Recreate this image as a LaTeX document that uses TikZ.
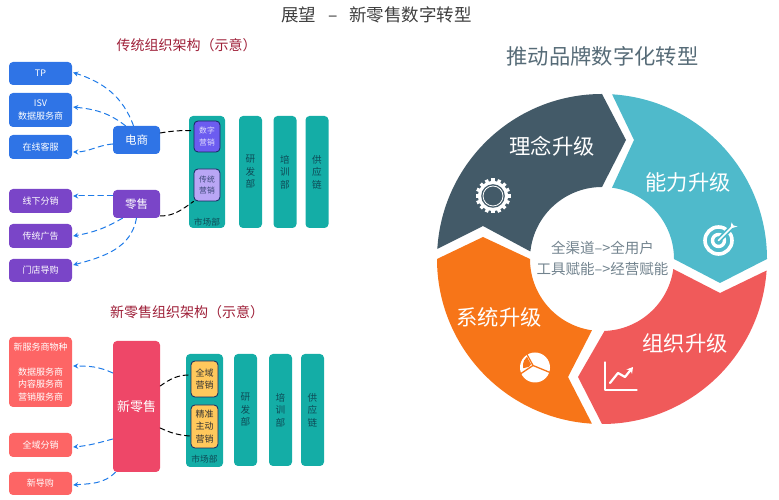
\documentclass[tikz,border=0pt]{standalone}
\usepackage{fontspec}
\setmainfont{Noto Sans CJK SC}
\usetikzlibrary{arrows.meta}
\definecolor{cblue}{HTML}{2F74E6}
\definecolor{cpurple}{HTML}{7A45C8}
\definecolor{csalmon}{HTML}{FD6565}
\definecolor{cpink}{HTML}{EE4768}
\definecolor{cbar}{HTML}{14ADA6}
\definecolor{cbartext}{HTML}{0E4A56}
\definecolor{cnavy}{HTML}{17255F}
\definecolor{carrow}{HTML}{1F7BE8}
\definecolor{ctitle}{HTML}{9E1F38}
\definecolor{cdark}{HTML}{435A68}
\definecolor{cteal}{HTML}{4FBACB}
\definecolor{cred}{HTML}{F05A5A}
\definecolor{corange}{HTML}{F77518}
\definecolor{cviolet}{HTML}{6C5CF0}
\definecolor{clilac}{HTML}{B9A6F5}
\definecolor{cyolk}{HTML}{FFC85C}
\begin{document}
\begin{tikzpicture}[x=1pt,y=1pt,line cap=round,line join=round,>=stealth,
	box/.style={rounded corners=4pt,text=white,align=center,inner sep=0pt,font=\fontsize{9}{12.3}\selectfont},
	hub/.style={rounded corners=4pt,text=white,align=center,inner sep=0pt,minimum width=47pt,font=\fontsize{11.5}{14}\selectfont},
	leafb/.style={box,fill=cblue,minimum width=63pt},
	leafp/.style={box,fill=cpurple,minimum width=63pt},
	leafr/.style={box,fill=csalmon,minimum width=63pt},
	bar/.style={rounded corners=4pt,fill=cbar,text=cbartext,align=center,inner sep=0pt,minimum width=23pt,minimum height=112pt,font=\fontsize{9.6}{12.5}\selectfont},
	unit/.style={rounded corners=4pt,draw=cnavy,line width=0.8pt,text=cbartext,align=center,inner sep=0pt,font=\fontsize{7.8}{11.5}\selectfont},
	seglabel/.style={text=white,inner sep=0pt,font=\fontsize{21.3}{25}\selectfont},
	linkb/.style={-{Stealth[length=5pt,width=5pt]},carrow,line width=1pt,dash pattern=on 5.5pt off 4pt},
	linkk/.style={black,line width=1pt,dash pattern=on 5pt off 3.5pt}]
	\useasboundingbox (0,0) rectangle (779,500);
	\node (toptitle) at (376.5,485) [text=black!75,font=\fontsize{17.5}{20}\selectfont] {展望\ \ \ –\ \ \ 新零售数字转型};
	\node (oldtitle) at (186.5,455) [text=ctitle,font=\fontsize{14}{16}\selectfont] {传统组织架构（示意）};
	\node (newtitle) at (187,188) [text=ctitle,font=\fontsize{14}{16}\selectfont] {新零售组织架构（示意）};
	\node (ringtitle) at (602.5,444) [text=cdark!90,font=\fontsize{21.3}{25}\selectfont] {推动品牌数字化转型};

	\node (tp) at (40.5,426.5) [leafb,minimum height=23pt] {TP};
	\node (isv) at (40.5,390) [leafb,minimum height=34pt] {ISV\\数据服务商};
	\node (kefu) at (40.5,353) [leafb,minimum height=24pt] {在线客服};
	\node (fenxiao) at (40.5,299) [leafp,minimum height=24pt] {线下分销};
	\node (guanggao) at (40.5,264) [leafp,minimum height=24pt] {传统广告};
	\node (daogou) at (40.5,229.5) [leafp,minimum height=23pt] {门店导购};
	\node (ecom) at (136.5,360) [hub,fill=cblue,minimum height=28pt] {电商};
	\node (retail) at (136.5,296) [hub,fill=cpurple,minimum height=28pt] {零售};

	\node (mkt) at (207,328) [bar,minimum width=36pt] {};
	\node (mkttext) at (207,278) [text=cbartext,inner sep=0pt,font=\fontsize{8.7}{10}\selectfont] {市场部};
	\node (digital) at (207,363.5) [unit,fill=cviolet,text=white!80!cviolet,minimum width=26pt,minimum height=31pt] {数字\\营销};
	\node (trad) at (207,315) [unit,fill=clilac,text=cnavy!85,minimum width=26pt,minimum height=32pt] {传统\\营销};
	\node (rd) at (250.5,328) [bar] {研\\发\\部};
	\node (train) at (285,328) [bar] {培\\训\\部};
	\node (supply) at (317,328) [bar] {供\\应\\链};

	\draw[linkb] ([xshift=-3pt]ecom.north) to[out=110,in=-18] ([xshift=1pt,yshift=1pt]tp.east);
	\draw[linkb] ([xshift=-11pt]ecom.north) to[out=142,in=-6] ([xshift=1pt,yshift=3pt]isv.east);
	\draw[linkb] ([yshift=-4pt]ecom.west) to[out=185,in=0] ([xshift=1pt,yshift=-5pt]kefu.east);
	\draw[linkb] ([yshift=8pt]retail.west) -- ([xshift=1pt,yshift=5pt]fenxiao.east);
	\draw[linkb] ([xshift=-14pt]retail.south) to[out=210,in=10] ([xshift=1pt]guanggao.east);
	\draw[linkb] (retail.south) to[out=-100,in=15] ([xshift=1pt,yshift=5.5pt]daogou.east);
	\draw[linkk] ([yshift=7pt]ecom.east) to[out=10,in=180] ([yshift=6pt]digital.west);
	\draw[linkk] ([yshift=-12pt]retail.east) to[out=0,in=215] (trad.south west);

	\node (newleaf) at (40.5,128) [leafr,minimum height=70pt] {新服务商物种\\\\数据服务商\\内容服务商\\营销服务商};
	\node (quanyu) at (40.5,55) [leafr,minimum height=24pt] {全域分销};
	\node (newguide) at (40.5,16.5) [leafr,minimum height=23pt] {新导购};
	\node (newretail) at (136.5,93.5) [hub,fill=cpink,minimum height=131pt,font=\fontsize{13}{16}\selectfont] {新零售};

	\node (mktn) at (204.5,89.5) [bar,minimum width=37pt,minimum height=113pt] {};
	\node (mktntext) at (204.5,41) [text=cbartext,inner sep=0pt,font=\fontsize{8.7}{10}\selectfont] {市场部};
	\node (fullmkt) at (204.5,121) [unit,fill=cyolk,text=black!80,minimum width=27pt,minimum height=36pt,font=\fontsize{9}{12.3}\selectfont] {全域\\营销};
	\node (activemkt) at (204.5,73.5) [unit,fill=cyolk,text=black!80,minimum width=27pt,minimum height=43pt,font=\fontsize{9}{12.3}\selectfont] {精准\\主动\\营销};
	\node (rdn) at (245.5,90) [bar] {研\\发\\部};
	\node (trainn) at (280.5,90) [bar] {培\\训\\部};
	\node (supplyn) at (312.5,90) [bar] {供\\应\\链};

	\draw[linkb] ([yshift=33.5pt]newretail.west) to[out=155,in=0] ([xshift=1pt,yshift=6pt]newleaf.east);
	\draw[linkb] ([yshift=-32.5pt]newretail.west) to[out=195,in=5] ([xshift=1pt,yshift=-2pt]quanyu.east);
	\draw[linkb] ([xshift=-21pt]newretail.south) to[out=225,in=5] ([xshift=1pt,yshift=-1.5pt]newguide.east);
	\draw[linkk] ([yshift=20.5pt]newretail.east) to[out=35,in=180] ([xshift=-1pt,yshift=4pt]fullmkt.west);
	\draw[linkk] ([yshift=-21.5pt]newretail.east) to[out=-25,in=175] ([xshift=-1pt,yshift=-9.5pt]activemkt.west);

	\begin{scope}[shift={(602,241)}]
		\fill[cdark] (176.5:165) arc (176.5:90:165) -- (24,119) -- (90:72) arc (90:174:72) -- (-119,33) -- cycle;
		\fill[cteal] (86.5:165) arc (86.5:0:165) -- (118,-24) -- (0:72) arc (0:82:72) -- (32,119) -- cycle;
		\fill[cred] (-4:165) arc (-4:-90:165) -- (-24,-118) -- (-88:72) arc (-88:-8:72) -- (118,-34) -- cycle;
		\fill[corange] (180:165) arc (180:266.5:165) -- (-34,-118) -- (262:72) arc (262:180:72) -- (-119,22) -- cycle;
	\end{scope}
	\node (idea) at (552,354) [seglabel] {理念升级};
	\node (ability) at (688,318) [seglabel] {能力升级};
	\node (system) at (499,183) [seglabel] {系统升级};
	\node (org) at (685,157) [seglabel] {组织升级};
	\node (center) at (602.5,241.5) [text=cdark!75,align=center,inner sep=0pt,font=\fontsize{14.5}{21}\selectfont] {全渠道–>全用户\\工具赋能–>经营赋能};

	\begin{scope}[shift={(493,304)}]
		\foreach \a in {0,22.5,...,337.5}
			\fill[white,rotate=\a] (14,-1.7) rectangle (17.5,1.7);
		\fill[white] (0,0) circle (15);
		\fill[cdark] (0,0) circle (11.8);
		\draw[white,line width=0.8pt] (0,0) circle (10);
	\end{scope}
	\begin{scope}[shift={(718.5,259.5)}]
		\draw[white,line width=3.6pt] (0,0) circle (13.5);
		\draw[white,line width=3.4pt] (0,0) circle (6);
		\draw[cteal,line width=5pt] (1,1) -- (17,17);
		\draw[white,line width=1.6pt] (0,0) -- (14,14);
		\fill[white] (12,12) -- (13,18) -- (15,15) -- (19,14) -- cycle;
	\end{scope}
	\begin{scope}[shift={(535,132.5)}]
		\fill[white] (0,0) circle (15);
		\fill[corange] (-4,3.3) -- (-8,10.7) .. controls (-10.5,9) and (-12,6) .. (-12,1) -- (-11.7,-0.7) -- (-6,0.7) -- cycle;
		\draw[corange,line width=1.3pt] (-2,2) -- (15,-5) (-2,2) -- (-5,0) -- (-14,-6) (-2,2) -- (-9,15);
	\end{scope}
	\draw[white,line width=1.3pt] (605,138) |- (637,110);
	\draw[white,line width=2.2pt,-{Stealth[length=6pt,width=7pt]}] (610,117) -- (618,127) -- (625,123) -- (633,133);
\end{tikzpicture}
\end{document}
